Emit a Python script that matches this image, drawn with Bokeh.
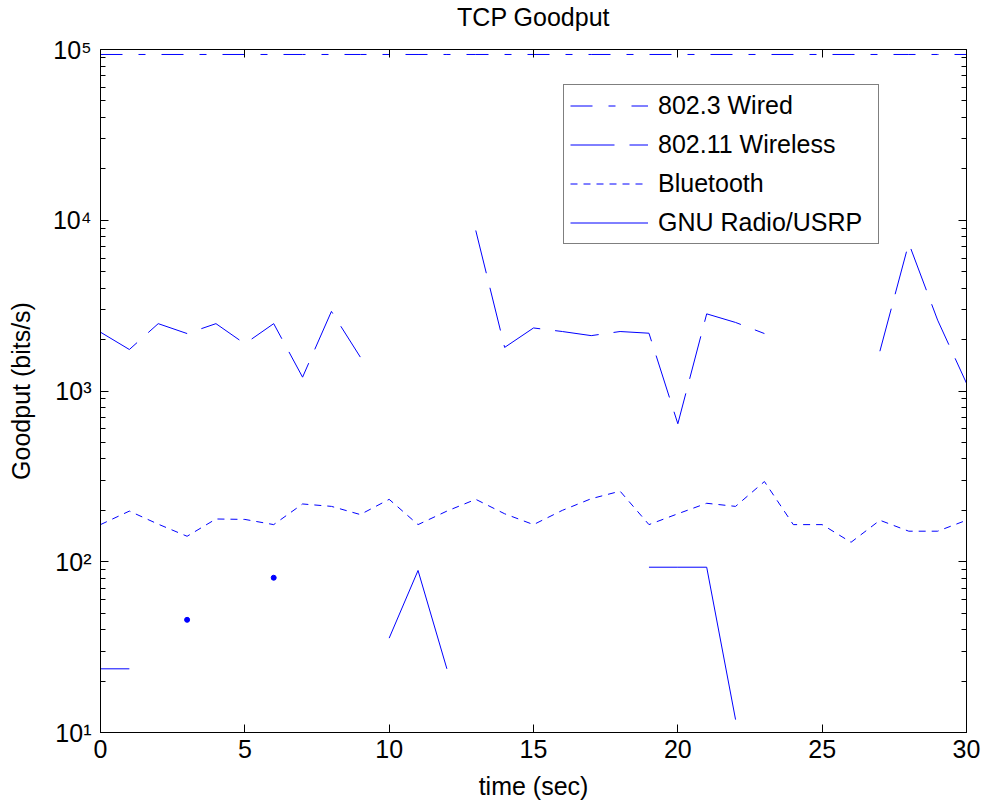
import math
from bokeh.plotting import figure
from bokeh.models import (LogAxis, LinearAxis, FixedTicker, Legend, LegendItem,
                          CustomJSTickFormatter, Range1d, ColumnDataSource)
from bokeh.embed import file_html
from bokeh.resources import INLINE

nan = float("nan")

# ---- data ----
time_sec = list(range(31))
wired_8023 = [93500, 93500, 93500, 93500, 93500, 93500, 93500, 93500, 93500, 93500,
              93500, 93500, 93500, 93500, 93500, 93500, 93500, 93500, 93500, 93500,
              93500, 93500, 93500, 93500, 93500, 93500, 93500, 93500, 93500, 93500, 93500]
wireless_80211 = [2210, 1750, 2480, 2170, 2480, 1890, 2480, 1205, 2925, 1580,
                  nan, nan, nan, 8710, 1800, 2340, 2230, 2110, 2230, 2180,
                  643, 2830, 2520, 2170, nan, nan, nan, 1710, 7340, 2600, 1110]
bluetooth = [165, 198, 166, 141, 178, 177, 165, 218, 211, 189,
             232, 165, 198, 232, 191, 165, 200, 234, 259, 165,
             191, 220, 211, 295, 165, 165, 130, 175, 151, 151, 175]
gnu_usrp = [23.6, 23.6, nan, 45.7, nan, nan, 80.6, nan, nan, nan,
            35.7, 88.9, 23.6, nan, nan, nan, nan, nan, nan, 92.9,
            92.9, 92.9, 11.9, nan, nan, nan, nan, nan, nan, nan, nan]

series_names = ["802.3 Wired", "802.11 Wireless", "Bluetooth", "GNU Radio/USRP"]
x_ticks = [0, 5, 10, 15, 20, 25, 30]
y_ticks = [10, 100, 1000, 10000, 100000]

FONT = "Liberation Sans"
FS = "25px"
BLUE = "#0000ff"

p = figure(width=984, height=805, x_range=Range1d(0, 30), y_range=Range1d(10, 1e5),
           y_axis_type="log", output_backend="svg", toolbar_location=None,
           min_border_left=100, min_border_right=18, min_border_top=49, min_border_bottom=73,
           title="TCP Goodput")
p.title.text_font = FONT
p.title.text_font_size = FS
p.title.text_font_style = "normal"
p.title.text_color = "black"
p.title.align = "center"
p.title.standoff = 0
p.grid.visible = False
p.outline_line_color = "black"
p.outline_line_width = 1
p.background_fill_color = "white"
p.border_fill_color = "white"

minor_y = [m * t for t in y_ticks[:-1] for m in range(2, 10)]
yticker = FixedTicker(ticks=y_ticks, minor_ticks=minor_y)
xticker = FixedTicker(ticks=x_ticks, minor_ticks=[])

sup_fmt = CustomJSTickFormatter(code="""
const sup = ['\u2070','\u00b9','\u00b2','\u00b3','\u2074','\u2075','\u2076','\u2077','\u2078','\u2079'];
const e = Math.round(Math.log10(tick));
return '10' + String(e).split('').map(d => sup[+d]).join('');
""")

xa = p.xaxis[0]
xa.ticker = xticker
xa.major_tick_in = 8
xa.major_tick_out = 0
xa.minor_tick_in = 0
xa.minor_tick_out = 0
xa.major_label_standoff = 7
xa.major_label_text_font = FONT
xa.major_label_text_font_size = FS
xa.major_label_text_color = "black"
xa.axis_label = "time (sec)"
xa.axis_label_text_font = FONT
xa.axis_label_text_font_size = FS
xa.axis_label_text_font_style = "normal"
xa.axis_label_text_color = "black"
xa.axis_label_standoff = 11
xa.axis_line_color = "black"

ya = p.yaxis[0]
ya.ticker = yticker
ya.formatter = sup_fmt
ya.major_tick_in = 8
ya.major_tick_out = 0
ya.minor_tick_in = 5
ya.minor_tick_out = 0
ya.major_label_standoff = 9
ya.major_label_text_font = FONT
ya.major_label_text_font_size = FS
ya.major_label_text_color = "black"
ya.axis_label = "Goodput (bits/s)"
ya.axis_label_text_font = FONT
ya.axis_label_text_font_size = FS
ya.axis_label_text_font_style = "normal"
ya.axis_label_text_color = "black"
ya.axis_label_standoff = 15
ya.axis_line_color = "black"

empty = CustomJSTickFormatter(code="return ''")
# the (blank) label of the top axis provides the gap between the frame and the title
top_ax = LinearAxis(ticker=xticker, formatter=empty, major_tick_in=8, major_tick_out=0,
                    minor_tick_in=0, minor_tick_out=0, major_label_standoff=0,
                    major_label_text_font_size="1px",
                    axis_label=" ", axis_label_text_font_size="12px", axis_label_standoff=2)
right_ax = LogAxis(ticker=yticker, formatter=empty, major_tick_in=8, major_tick_out=0,
                   minor_tick_in=5, minor_tick_out=0, major_label_standoff=0,
                   major_label_text_font_size="1px", axis_label_standoff=0)
p.add_layout(top_ax, "above")
p.add_layout(right_ax, "right")

src = ColumnDataSource(dict(t=time_sec, wired=wired_8023, wireless=wireless_80211,
                            bt=bluetooth, gnu=gnu_usrp))

r_wired = p.line("t", "wired", source=src, line_color=BLUE, line_width=1, line_dash="22 16 7 16")
r_wless = p.line("t", "wireless", source=src, line_color=BLUE, line_width=1, line_dash="44 15")
r_bt = p.line("t", "bt", source=src, line_color=BLUE, line_width=1, line_dash="7 6")
r_gnu = p.line("t", "gnu", source=src, line_color=BLUE, line_width=1)

# isolated GNU Radio samples (neighbours missing) show up as dots
iso_t, iso_v = [], []
for i, v in enumerate(gnu_usrp):
    if math.isnan(v):
        continue
    prev_nan = i == 0 or math.isnan(gnu_usrp[i - 1])
    next_nan = i == len(gnu_usrp) - 1 or math.isnan(gnu_usrp[i + 1])
    if prev_nan and next_nan:
        iso_t.append(time_sec[i])
        iso_v.append(v)
p.scatter(iso_t, iso_v, size=5, fill_color=BLUE, line_color=BLUE)

legend = Legend(items=[LegendItem(label=n, renderers=[r]) for n, r in
                       zip(series_names, [r_wired, r_wless, r_bt, r_gnu])],
                location=(463, 488), orientation="vertical",
                label_text_font=FONT, label_text_font_size=FS, label_text_color="black",
                glyph_width=78, glyph_height=27, label_height=27, label_width=214,
                label_standoff=10, spacing=10, padding=6, margin=0,
                border_line_color="black", border_line_width=1,
                background_fill_color="white", background_fill_alpha=1.0)
p.add_layout(legend)

open("out.html", "w").write(file_html(p, INLINE))
